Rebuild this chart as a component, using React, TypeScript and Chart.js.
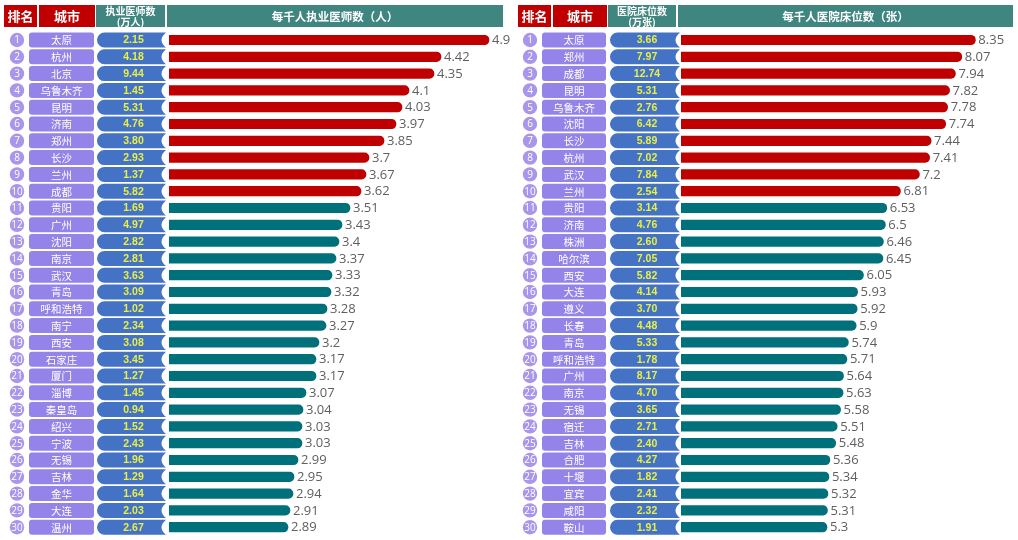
import React, { useEffect, useRef } from 'react';
import { Chart, registerables } from 'chart.js';

Chart.register(...registerables);

// ---------- data ----------
const doctorCities = ['太原', '杭州', '北京', '乌鲁木齐', '昆明', '济南', '郑州', '长沙', '兰州', '成都', '贵阳', '广州', '沈阳', '南京', '武汉', '青岛', '呼和浩特', '南宁', '西安', '石家庄', '厦门', '淄博', '秦皇岛', '绍兴', '宁波', '无锡', '吉林', '金华', '大连', '温州'];
const doctorTotals = [2.15, 4.18, 9.44, 1.45, 5.31, 4.76, 3.80, 2.93, 1.37, 5.82, 1.69, 4.97, 2.82, 2.81, 3.63, 3.09, 1.02, 2.34, 3.08, 3.45, 1.27, 1.45, 0.94, 1.52, 2.43, 1.96, 1.29, 1.64, 2.03, 2.67];
const doctorsPerThousand = [4.9, 4.42, 4.35, 4.1, 4.03, 3.97, 3.85, 3.7, 3.67, 3.62, 3.51, 3.43, 3.4, 3.37, 3.33, 3.32, 3.28, 3.27, 3.2, 3.17, 3.17, 3.07, 3.04, 3.03, 3.03, 2.99, 2.95, 2.94, 2.91, 2.89];

const bedCities = ['太原', '郑州', '成都', '昆明', '乌鲁木齐', '沈阳', '长沙', '杭州', '武汉', '兰州', '贵阳', '济南', '株洲', '哈尔滨', '西安', '大连', '遵义', '长春', '青岛', '呼和浩特', '广州', '南京', '无锡', '宿迁', '吉林', '合肥', '十堰', '宜宾', '咸阳', '鞍山'];
const bedTotals = [3.66, 7.97, 12.74, 5.31, 2.76, 6.42, 5.89, 7.02, 7.84, 2.54, 3.14, 4.76, 2.60, 7.05, 5.82, 4.14, 3.70, 4.48, 5.33, 1.78, 8.17, 4.70, 3.65, 2.71, 2.40, 4.27, 1.82, 2.41, 2.32, 1.91];
const bedsPerThousand = [8.35, 8.07, 7.94, 7.82, 7.78, 7.74, 7.44, 7.41, 7.2, 6.81, 6.53, 6.5, 6.46, 6.45, 6.05, 5.93, 5.92, 5.9, 5.74, 5.71, 5.64, 5.63, 5.58, 5.51, 5.48, 5.36, 5.34, 5.32, 5.31, 5.3];

const doctorHeaders = ['排名', '城市', '执业医师数', '(万人)', '每千人执业医师数（人）'];
const bedHeaders = ['排名', '城市', '医院床位数', '(万张)', '每千人医院床位数（张）'];
const highlightCount = 10;

// ---------- styles ----------
const RED = '#c00000';
const TEAL = '#00707a';
const HEAD_TEAL = '#3f8580';
const CIRCLE = '#a996ea';
const PILL = '#9483e8';
const BLUE = '#4472c4';
const YELLOW = '#e8f046';
const CJK = '"Noto Sans CJK SC", "Noto Sans", sans-serif';

type Geo = {
  left: number; width: number; xMin: number; xMax: number; padLeft: number; padRight: number;
  h1: [number, number]; h2: [number, number]; h3: [number, number]; h4: [number, number];
  circleX: number; pill: [number, number]; blue: [number, number];
};

type Spec = {
  key: string; cities: string[]; totals: number[]; values: number[]; headers: string[]; geo: Geo;
};

function roundRect(ctx: CanvasRenderingContext2D, x: number, y: number, w: number, h: number, r: number) {
  ctx.beginPath();
  ctx.moveTo(x + r, y);
  ctx.lineTo(x + w - r, y);
  ctx.arcTo(x + w, y, x + w, y + r, r);
  ctx.lineTo(x + w, y + h - r);
  ctx.arcTo(x + w, y + h, x + w - r, y + h, r);
  ctx.lineTo(x + r, y + h);
  ctx.arcTo(x, y + h, x, y + h - r, r);
  ctx.lineTo(x, y + r);
  ctx.arcTo(x, y, x + r, y, r);
  ctx.closePath();
}

function blueShape(ctx: CanvasRenderingContext2D, x0: number, x1: number, cy: number, h: number) {
  const r = h / 2;
  ctx.beginPath();
  ctx.moveTo(x0 + r, cy - r);
  ctx.lineTo(x1, cy - r);
  ctx.quadraticCurveTo(x1 - 9, cy, x1, cy + r);
  ctx.lineTo(x0 + r, cy + r);
  ctx.arc(x0 + r, cy, r, Math.PI / 2, (3 * Math.PI) / 2);
  ctx.closePath();
  ctx.fill();
}

function makeTablePlugin(spec: Spec) {
  return {
    id: 'table_' + spec.key,
    afterDraw(chart: any) {
      const ctx: CanvasRenderingContext2D = chart.ctx;
      const g = spec.geo;
      const yScale = chart.scales.y;
      const meta = chart.getDatasetMeta(0);
      ctx.save();
      // header
      const hTop = 5, hH = 22, hMid = hTop + hH / 2;
      ctx.fillStyle = RED;
      ctx.fillRect(g.h1[0], hTop, g.h1[1] - g.h1[0], hH);
      ctx.fillRect(g.h2[0], hTop, g.h2[1] - g.h2[0], hH);
      ctx.fillStyle = HEAD_TEAL;
      ctx.fillRect(g.h3[0], hTop, g.h3[1] - g.h3[0], hH);
      ctx.fillRect(g.h4[0], hTop, g.h4[1] - g.h4[0], hH);
      ctx.fillStyle = '#ffffff';
      ctx.textAlign = 'center';
      ctx.textBaseline = 'middle';
      ctx.font = 'bold 13px ' + CJK;
      ctx.fillText(spec.headers[0], (g.h1[0] + g.h1[1]) / 2, hMid + 0.5);
      ctx.fillText(spec.headers[1], (g.h2[0] + g.h2[1]) / 2, hMid + 0.5);
      ctx.font = 'bold 10px ' + CJK;
      ctx.fillText(spec.headers[2], (g.h3[0] + g.h3[1]) / 2, hMid - 5);
      ctx.fillText(spec.headers[3], (g.h3[0] + g.h3[1]) / 2, hMid + 6);
      ctx.font = 'bold 11.5px ' + CJK;
      ctx.fillText(spec.headers[4], (g.h4[0] + g.h4[1]) / 2, hMid + 0.5);

      // rows
      for (let i = 0; i < spec.cities.length; i++) {
        const cy = yScale.getPixelForValue(i);
        // rank circle
        ctx.fillStyle = CIRCLE;
        ctx.beginPath();
        ctx.arc(g.circleX, cy, 7.2, 0, Math.PI * 2);
        ctx.fill();
        ctx.fillStyle = '#ffffff';
        ctx.font = '10px "Open Sans", sans-serif';
        ctx.fillText(String(i + 1), g.circleX, cy + 0.5);
        // city pill
        ctx.fillStyle = PILL;
        roundRect(ctx, g.pill[0], cy - 7.5, g.pill[1] - g.pill[0], 15, 3);
        ctx.fill();
        ctx.fillStyle = '#ffffff';
        ctx.font = '10.5px ' + CJK;
        ctx.fillText(spec.cities[i], (g.pill[0] + g.pill[1]) / 2, cy + 0.5);
        // blue total
        ctx.fillStyle = BLUE;
        blueShape(ctx, g.blue[0], g.blue[1], cy, 15);
        ctx.fillStyle = YELLOW;
        ctx.font = 'bold 10.5px "Liberation Sans", sans-serif';
        ctx.fillText(spec.totals[i].toFixed(2), (g.blue[0] + g.blue[1]) / 2 + 2, cy + 0.5);
        // value label
        const bar = meta.data[i];
        ctx.fillStyle = '#5f5f5f';
        ctx.textAlign = 'left';
        ctx.font = '13px "Open Sans", sans-serif';
        ctx.fillText(String(spec.values[i]), bar.x + 3, cy + 0.5);
        ctx.textAlign = 'center';
      }
      ctx.restore();
    },
  };
}

function Panel({ spec }: { spec: Spec }) {
  const ref = useRef<HTMLCanvasElement | null>(null);
  useEffect(() => {
    if (!ref.current) return;
    const g = spec.geo;
    const chart = new Chart(ref.current, {
      type: 'bar',
      data: {
        labels: spec.cities,
        datasets: [
          {
            data: spec.values,
            backgroundColor: spec.values.map((_, i) => (i < highlightCount ? RED : TEAL)),
            barThickness: 9.5,
            borderRadius: 5,
            borderSkipped: false,
          },
        ],
      },
      options: {
        indexAxis: 'y',
        responsive: false,
        animation: false,
        devicePixelRatio: 1,
        layout: { padding: { left: g.padLeft, right: g.padRight, top: 31.6, bottom: 4.4 } },
        scales: {
          x: { display: false, min: g.xMin, max: g.xMax },
          y: { display: false },
        },
        plugins: { legend: { display: false }, tooltip: { enabled: false } },
      },
      plugins: [makeTablePlugin(spec)],
    } as any);
    return () => chart.destroy();
  }, [spec]);
  return (
    <canvas
      ref={ref}
      width={spec.geo.width}
      height={540}
      style={{ position: 'absolute', left: spec.geo.left, top: 0, width: spec.geo.width, height: 540 }}
    />
  );
}

const leftSpec: Spec = {
  key: 'doctors',
  cities: doctorCities,
  totals: doctorTotals,
  values: doctorsPerThousand,
  headers: doctorHeaders,
  geo: {
    left: 0, width: 515, xMin: 1.7, xMax: 5.1, padLeft: 169, padRight: 6,
    h1: [4, 37], h2: [39, 95], h3: [96, 165], h4: [167, 503],
    circleX: 17, pill: [29, 94], blue: [97, 166],
  },
};

const rightSpec: Spec = {
  key: 'beds',
  cities: bedCities,
  totals: bedTotals,
  values: bedsPerThousand,
  headers: bedHeaders,
  geo: {
    left: 515, width: 503, xMin: 2.3, xMax: 9.0, padLeft: 166, padRight: 11,
    h1: [3, 36], h2: [38, 92], h3: [93, 161], h4: [163, 498],
    circleX: 15, pill: [27, 91], blue: [95, 165],
  },
};

export default function App() {
  return (
    <div style={{ position: 'fixed', left: 0, top: 0, width: 1018, height: 540, background: '#ffffff', overflow: 'hidden' }}>
      <Panel spec={leftSpec} />
      <Panel spec={rightSpec} />
    </div>
  );
}
